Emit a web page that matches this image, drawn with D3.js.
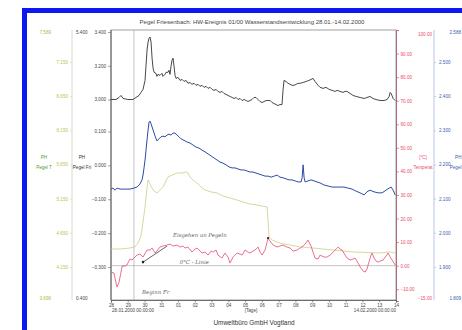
<!DOCTYPE html>
<html>
<head>
<meta charset="utf-8">
<script src="https://cdn.jsdelivr.net/npm/d3@7"></script>
<style>
  html, body { margin: 0; padding: 0; background: #fff; }
  svg { display: block; font-family: "Liberation Sans", Arial, sans-serif; }
</style>
</head>
<body>
<div id="chart"></div>
<script>
// time axis: days after 28.01.2000 00:00
const startDate = Date.UTC(2000, 0, 28);
const dayCount = 17;

// tick values of the different axes
const levelTicks = [3.4, 3.2, 3.0];
const deltaTicks = [0.1, 0.0, -0.1, -0.2, -0.3];
const greenTicks = [7.15, 6.65, 6.15, 5.65, 5.15, 4.65, 4.15];
const greenEnds = [7.589, 3.696];
const auxEnds = [5.4, 0.4];
const tempTicks = [90, 80, 70, 60, 50, 40, 30, 20, 10, 0, -10];
const tempEnds = [100, -15];
const blueTicks = [2.5, 2.4, 2.3, 2.2, 2.1, 2.0, 1.9];
const blueEnds = [2.588, 1.809];

// Pegel Friesenbach [m]  (black)
const levelData = [[0,3.000],[0.30,3.000],[0.48,3.012],[0.60,3.024],[0.72,3.006],[1.01,3.000],[1.31,3.000],[1.49,3.012],[1.67,3.024],[1.79,3.042],[1.91,3.060],[2.03,3.113],[2.09,3.203],[2.15,3.293],[2.21,3.340],[2.27,3.364],[2.33,3.370],[2.39,3.340],[2.45,3.245],[2.51,3.185],[2.57,3.161],[2.68,3.155],[2.74,3.137],[2.80,3.149],[2.92,3.143],[3.04,3.155],[3.10,3.137],[3.22,3.149],[3.28,3.161],[3.40,3.161],[3.46,3.173],[3.52,3.149],[3.58,3.197],[3.64,3.233],[3.70,3.245],[3.76,3.197],[3.82,3.143],[3.88,3.125],[4.00,3.131],[4.12,3.113],[4.24,3.119],[4.36,3.107],[4.48,3.113],[4.59,3.096],[4.71,3.101],[4.83,3.090],[4.95,3.096],[5.07,3.084],[5.19,3.090],[5.31,3.078],[5.43,3.084],[5.55,3.072],[5.67,3.078],[5.79,3.066],[5.91,3.072],[6.03,3.060],[6.15,3.054],[6.27,3.060],[6.38,3.048],[6.50,3.042],[6.62,3.048],[6.74,3.036],[6.86,3.030],[6.98,3.024],[7.10,3.018],[7.22,3.012],[7.34,3.006],[7.46,3.012],[7.58,3.000],[7.70,3.006],[7.82,2.994],[7.94,3.000],[8.06,2.994],[8.17,2.988],[8.29,2.994],[8.41,3.000],[8.53,3.012],[8.65,3.012],[8.77,3.000],[8.89,2.988],[9.01,2.982],[9.13,2.988],[9.25,2.994],[9.37,2.994],[9.49,2.994],[9.61,2.982],[9.73,2.976],[9.85,2.970],[9.96,2.964],[10.08,2.970],[10.20,2.970],[10.26,3.054],[10.32,3.113],[10.44,3.107],[10.56,3.096],[10.68,3.090],[10.80,3.084],[10.92,3.084],[11.04,3.090],[11.16,3.096],[11.28,3.096],[11.46,3.101],[11.64,3.107],[11.81,3.113],[11.93,3.119],[12.05,3.125],[12.17,3.107],[12.35,3.084],[12.47,3.072],[12.65,3.066],[12.83,3.072],[13.01,3.060],[13.19,3.054],[13.37,3.048],[13.49,3.054],[13.66,3.048],[13.84,3.042],[13.96,3.048],[14.08,3.048],[14.26,3.036],[14.44,3.024],[14.62,3.018],[14.86,3.012],[15.10,3.006],[15.27,3.012],[15.45,3.018],[15.63,3.006],[15.81,3.000],[16.05,2.994],[16.29,2.994],[16.47,3.000],[16.59,3.018],[16.65,3.042],[16.71,3.036],[16.83,3.006],[16.95,2.994]];

// PH Pegel (blue, right axis)
const blueData = [[0,2.128],[0.12,2.131],[0.24,2.125],[0.36,2.131],[0.54,2.128],[0.84,2.128],[1.13,2.128],[1.37,2.131],[1.55,2.134],[1.73,2.143],[1.85,2.155],[1.91,2.169],[1.97,2.190],[2.03,2.213],[2.09,2.242],[2.15,2.272],[2.21,2.301],[2.27,2.324],[2.33,2.327],[2.39,2.319],[2.51,2.301],[2.63,2.283],[2.74,2.269],[2.86,2.275],[2.98,2.281],[3.10,2.283],[3.22,2.281],[3.34,2.286],[3.46,2.289],[3.58,2.286],[3.70,2.292],[3.82,2.292],[3.94,2.286],[4.06,2.281],[4.18,2.275],[4.30,2.272],[4.42,2.269],[4.53,2.266],[4.71,2.263],[4.89,2.257],[5.07,2.251],[5.25,2.248],[5.43,2.242],[5.61,2.237],[5.79,2.231],[5.97,2.225],[6.15,2.219],[6.33,2.213],[6.50,2.207],[6.68,2.204],[6.86,2.199],[7.04,2.193],[7.22,2.190],[7.40,2.190],[7.58,2.187],[7.76,2.184],[7.94,2.184],[8.12,2.181],[8.29,2.178],[8.47,2.178],[8.65,2.175],[8.83,2.172],[9.01,2.169],[9.19,2.166],[9.37,2.166],[9.55,2.163],[9.73,2.166],[9.91,2.169],[10.08,2.163],[10.26,2.161],[10.44,2.158],[10.62,2.155],[10.80,2.155],[10.98,2.152],[11.16,2.149],[11.34,2.149],[11.40,2.161],[11.46,2.199],[11.52,2.161],[11.58,2.149],[11.75,2.152],[11.93,2.155],[12.11,2.152],[12.29,2.149],[12.47,2.146],[12.71,2.140],[12.95,2.137],[13.19,2.134],[13.43,2.134],[13.66,2.134],[13.90,2.134],[14.14,2.131],[14.38,2.128],[14.62,2.122],[14.86,2.117],[15.10,2.111],[15.27,2.120],[15.45,2.125],[15.69,2.120],[15.93,2.117],[16.17,2.117],[16.41,2.125],[16.59,2.131],[16.71,2.134],[16.83,2.125],[16.95,2.111]];

// PH Pegel (green, left axis)
const greenData = [[0,4.413],[0.54,4.413],[1.13,4.428],[1.43,4.443],[1.61,4.501],[1.79,4.604],[1.91,4.809],[2.03,5.028],[2.15,5.306],[2.21,5.423],[2.33,5.365],[2.51,5.277],[2.74,5.233],[2.92,5.277],[3.10,5.321],[3.28,5.409],[3.40,5.467],[3.64,5.496],[3.94,5.526],[4.24,5.526],[4.48,5.540],[4.59,5.526],[4.71,5.467],[4.89,5.423],[5.13,5.379],[5.37,5.321],[5.61,5.277],[5.97,5.248],[6.33,5.233],[6.68,5.189],[7.10,5.160],[7.52,5.130],[7.88,5.101],[8.29,5.072],[8.71,5.057],[9.01,5.043],[9.31,5.028],[9.37,4.809],[9.43,4.589],[9.61,4.545],[9.91,4.516],[10.26,4.487],[10.68,4.472],[11.28,4.443],[12.05,4.428],[13.25,4.399],[14.44,4.370],[16.05,4.355],[16.65,4.370],[16.95,4.355]];

// Temperatur [°C] (red)
const tempData = [[0,-2.72],[0.18,-3.14],[0.30,-7.38],[0.36,-9.08],[0.48,-6.96],[0.60,-2.72],[0.66,-0.17],[0.84,-0.17],[0.95,0.25],[1.13,2.80],[1.25,2.38],[1.43,3.65],[1.55,4.50],[1.73,4.92],[1.91,3.65],[2.15,6.62],[2.33,6.62],[2.45,7.47],[2.63,5.35],[2.74,6.20],[2.92,7.89],[3.10,8.32],[3.34,8.74],[3.52,9.17],[3.70,8.32],[3.94,8.74],[4.12,7.89],[4.30,8.32],[4.42,7.47],[4.59,7.89],[4.83,5.77],[5.01,7.04],[5.13,7.47],[5.31,6.20],[5.43,5.35],[5.61,5.77],[5.79,4.50],[5.97,6.20],[6.09,5.77],[6.27,6.62],[6.38,4.50],[6.62,3.23],[6.80,5.35],[6.98,3.65],[7.10,1.10],[7.28,3.65],[7.52,5.35],[7.70,4.92],[7.82,4.50],[8.00,6.62],[8.17,5.77],[8.29,5.35],[8.47,6.20],[8.59,6.62],[8.77,7.89],[8.89,5.77],[9.01,4.50],[9.19,6.62],[9.37,11.71],[9.49,10.44],[9.67,8.74],[9.91,7.89],[10.08,8.32],[10.26,8.74],[10.50,7.89],[10.68,7.47],[10.86,6.20],[11.10,6.62],[11.28,7.47],[11.46,8.32],[11.58,9.17],[11.75,10.86],[11.93,8.32],[12.05,5.77],[12.17,3.23],[12.35,2.80],[12.47,4.50],[12.71,3.65],[12.89,3.65],[13.07,4.50],[13.25,5.77],[13.43,7.04],[13.55,7.89],[13.66,7.04],[13.78,6.62],[13.96,4.50],[14.08,3.23],[14.26,2.38],[14.44,2.80],[14.56,3.23],[14.74,1.10],[14.86,-0.59],[15.04,-2.29],[15.16,-2.72],[15.27,-1.44],[15.39,1.53],[15.51,4.50],[15.57,5.35],[15.69,3.23],[15.81,1.95],[15.93,1.53],[16.05,1.95],[16.23,2.38],[16.41,4.07],[16.53,5.35],[16.65,3.65],[16.77,2.38],[16.95,0.25]];

// handwritten notes: [day, temperature]
const frostStartDay = 1.37;
const iceNote = { text: 'Eisgehen an Pegeln', day: 3.7, temp: 12.2 };
const iceArrow = [[1.91, 1.5], [3.34, 8.3]];
const zeroNote = { text: '0°C - Linie', day: 4.1, temp: 0.9 };
const frostNote = { text: 'Beginn Fr', day: 1.85, temp: -12.0 };

const W = 462, H = 330;
const plot = { left: 111, right: 396, top: 30, bottom: 300 };
const fs = '4.6px';

const svg = d3.select('#chart').append('svg').attr('width', W).attr('height', H);

// blue page frame
svg.append('rect').attr('x', 24.5).attr('y', 10.5).attr('width', 520).attr('height', 400)
  .attr('fill', '#fff').attr('stroke', '#0c18f2').attr('stroke-width', 5);

const day = d => new Date(startDate + d * 864e5);
const x = d3.scaleUtc().domain([day(0), day(dayCount)]).range([plot.left, plot.right]);
const yLevel = d3.scaleLinear().domain([3.0, 3.4]).range([99.5, 32]);
const yDelta = d3.scaleLinear().domain([-0.3, 0.1]).range([267, 131.5]);
const yGreen = d3.scaleLinear().domain([4.15, 7.15]).range([267, 62]);
const yAux = d3.scaleLinear().domain([0.4, 5.4]).range([298, 32]);
const yTemp = d3.scaleLinear().domain([-15, 100]).range([301, 30]);
const yBlue = d3.scaleLinear().domain([1.9, 2.5]).range([267, 62]);

function styleAxis(g, textColor, lineColor) {
  g.attr('font-size', null).attr('font-family', null);
  g.selectAll('text').attr('fill', textColor).style('font-size', fs);
  g.selectAll('line').attr('stroke', lineColor).attr('stroke-width', 0.6);
  g.select('.domain').attr('stroke', lineColor).attr('stroke-width', 0.8);
}

// title
svg.append('text').attr('x', 252).attr('y', 24).attr('text-anchor', 'middle')
  .style('font-size', '6px').attr('fill', '#444')
  .text('Pegel Friesenbach: HW-Ereignis 01/00 Wasserstandsentwicklung 28.01.-14.02.2000');

// plot frame
svg.append('rect').attr('x', plot.left).attr('y', plot.top)
  .attr('width', plot.right - plot.left).attr('height', plot.bottom - plot.top)
  .attr('fill', 'none').attr('stroke', '#888').attr('stroke-width', 0.8);

// left side axes
const gGreen = svg.append('g').attr('transform', 'translate(72,0)')
  .call(d3.axisLeft(yGreen).tickValues(greenTicks).tickSize(2).tickPadding(2).tickFormat(d3.format('.3f')));
gGreen.select('.domain').remove();
styleAxis(gGreen, '#bcc44e', '#d4d8a0');
svg.append('line').attr('x1', 72).attr('x2', 72).attr('y1', 30).attr('y2', 300)
  .attr('stroke', '#cfcfc4').attr('stroke-width', 0.8);

const gGreenEnds = svg.append('g').attr('transform', 'translate(51,0)')
  .call(d3.axisLeft(yGreen).tickValues(greenEnds).tickSize(0).tickPadding(0).tickFormat(d3.format('.3f')));
gGreenEnds.select('.domain').remove();
styleAxis(gGreenEnds, '#9cc23c', '#fff');

const gAux = svg.append('g').attr('transform', 'translate(72,0)')
  .call(d3.axisRight(yAux).tickValues(auxEnds).tickSize(0).tickPadding(4).tickFormat(d3.format('.3f')));
gAux.select('.domain').remove();
styleAxis(gAux, '#444', '#fff');

const gMainTop = svg.append('g').attr('transform', `translate(${plot.left},0)`)
  .call(d3.axisLeft(yLevel).tickValues(levelTicks).tickSize(3).tickPadding(2).tickFormat(d3.format('.3f')));
gMainTop.select('.domain').remove();
styleAxis(gMainTop, '#444', '#666');
const gMainBottom = svg.append('g').attr('transform', `translate(${plot.left},0)`)
  .call(d3.axisLeft(yDelta).tickValues(deltaTicks).tickSize(3).tickPadding(2).tickFormat(d3.format('.3f')));
gMainBottom.select('.domain').remove();
styleAxis(gMainBottom, '#444', '#666');
svg.append('line').attr('x1', plot.left).attr('x2', plot.left).attr('y1', plot.top).attr('y2', plot.bottom)
  .attr('stroke', '#555').attr('stroke-width', 0.9);

// right side axes
const gTemp = svg.append('g').attr('transform', `translate(${plot.right},0)`)
  .call(d3.axisRight(yTemp).tickValues(tempTicks).tickSize(3).tickPadding(1.5).tickFormat(d3.format('.2f')));
styleAxis(gTemp, '#ea4a6e', '#b0506a');

const gTempEnds = svg.append('g').attr('transform', 'translate(432,0)')
  .call(d3.axisLeft(yTemp).tickValues(tempEnds).tickSize(0).tickPadding(0).tickFormat(d3.format('.2f')));
gTempEnds.select('.domain').remove();
styleAxis(gTempEnds, '#ea4a6e', '#fff');
gTempEnds.selectAll('text').attr('dy', (d, i) => i === 0 ? '1.1em' : '-0.4em');

const gBlue = svg.append('g').attr('transform', 'translate(434,0)')
  .call(d3.axisRight(yBlue).tickValues(blueTicks).tickSize(2).tickPadding(3).tickFormat(d3.format('.3f')));
gBlue.select('.domain').remove();
styleAxis(gBlue, '#3a5bb0', '#9fb0dc');
svg.append('line').attr('x1', 434).attr('x2', 434).attr('y1', 30).attr('y2', 300)
  .attr('stroke', '#a9b8e0').attr('stroke-width', 0.8);

const gBlueEnds = svg.append('g').attr('transform', 'translate(449.5,0)')
  .call(d3.axisRight(yBlue).tickValues(blueEnds).tickSize(0).tickPadding(0).tickFormat(d3.format('.3f')));
gBlueEnds.select('.domain').remove();
styleAxis(gBlueEnds, '#3a5bb0', '#fff');

// axis titles
const titles = [
  { x: 44, anchor: 'middle', lines: ['PH', 'Pegel T'], color: '#4aa02a' },
  { x: 82, anchor: 'middle', lines: ['PH', 'Pegel Fri'], color: '#333' },
  { x: 423, anchor: 'middle', lines: ['[°C]', 'Temperat'], color: '#ea4a6e' },
  { x: 461.5, anchor: 'end', lines: ['PH', 'Pegel'], color: '#3a5bb0' }
];
titles.forEach(t => {
  t.lines.forEach((s, i) => {
    svg.append('text').attr('x', t.x).attr('y', 159 + i * 10).attr('text-anchor', t.anchor)
      .style('font-size', fs).attr('fill', t.color).text(s);
  });
});

// x axis
const gx = svg.append('g').attr('transform', `translate(0,${plot.bottom})`)
  .call(d3.axisBottom(x).ticks(d3.utcDay.every(1)).tickSize(2.5).tickPadding(1).tickFormat(d3.utcFormat('%d')));
styleAxis(gx, '#444', '#555');

svg.append('text').attr('x', plot.left + 1).attr('y', 311.5).style('font-size', fs).attr('fill', '#444')
  .text('28.01.2000 00:00:00');
svg.append('text').attr('x', plot.right).attr('y', 311.5).attr('text-anchor', 'end').style('font-size', fs)
  .attr('fill', '#444').text('14.02.2000 00:00:00');
svg.append('text').attr('x', 251).attr('y', 311.5).attr('text-anchor', 'middle').style('font-size', fs)
  .attr('fill', '#444').text('[Tage]');
svg.append('text').attr('x', 254).attr('y', 325).attr('text-anchor', 'middle').style('font-size', '6.4px')
  .attr('fill', '#333').text('Umweltbüro GmbH Vogtland');

// reference lines
svg.append('line').attr('x1', plot.left).attr('x2', plot.right).attr('y1', yTemp(0)).attr('y2', yTemp(0))
  .attr('stroke', '#9a9a9a').attr('stroke-width', 0.6);
svg.append('line').attr('x1', x(day(frostStartDay))).attr('x2', x(day(frostStartDay)))
  .attr('y1', plot.top).attr('y2', plot.bottom).attr('stroke', '#9a9a9a').attr('stroke-width', 0.6);

// series
const series = [
  { data: greenData, y: yGreen, color: '#c9cf86', w: 0.8 },
  { data: tempData, y: yTemp, color: '#ea4a72', w: 0.8 },
  { data: blueData, y: yBlue, color: '#2d4aa6', w: 1.0 },
  { data: levelData, y: yLevel, color: '#333', w: 0.9 }
];
series.forEach(s => {
  const line = d3.line().x(d => x(day(d[0]))).y(d => s.y(d[1]));
  svg.append('path').datum(s.data).attr('d', line)
    .attr('fill', 'none').attr('stroke', s.color).attr('stroke-width', s.w).attr('stroke-linejoin', 'round');
});

// handwritten notes
const hand = sel => sel.style('font-family', '"DejaVu Serif", serif').style('font-style', 'italic')
  .style('font-size', '5.4px').attr('fill', '#666');
[iceNote, zeroNote, frostNote].forEach(n => {
  svg.append('text').attr('x', x(day(n.day))).attr('y', yTemp(n.temp)).call(hand).text(n.text);
});
svg.append('path').datum(iceArrow)
  .attr('d', d3.line().x(d => x(day(d[0]))).y(d => yTemp(d[1])))
  .attr('stroke', '#222').attr('stroke-width', 0.7).attr('fill', 'none');
svg.append('circle').attr('cx', x(day(iceArrow[0][0]))).attr('cy', yTemp(iceArrow[0][1]))
  .attr('r', 1.3).attr('fill', '#222');
svg.append('circle').attr('cx', x(day(9.37))).attr('cy', yTemp(11.71)).attr('r', 1.1).attr('fill', '#222');
</script>
</body>
</html>
